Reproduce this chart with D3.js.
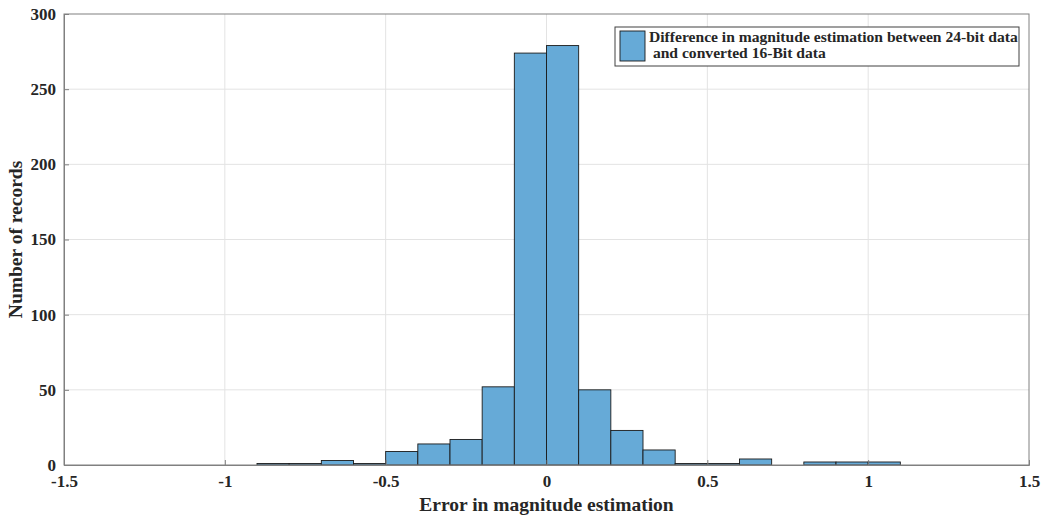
<!DOCTYPE html>
<html>
<head>
<meta charset="utf-8">
<script src="https://cdn.jsdelivr.net/npm/d3@7"></script>
<style>
  body { margin: 0; background: #fff; }
  text { font-family: "Liberation Serif", "Times New Roman", serif; font-weight: bold; fill: #262626; }
</style>
</head>
<body>
<div id="chart"></div>
<script>
// histogram bins (left edges) and counts
const binStarts = [-0.9, -0.8, -0.7, -0.6, -0.5, -0.4, -0.3, -0.2, -0.1, 0, 0.1, 0.2, 0.3, 0.4, 0.5, 0.6, 0.7, 0.8, 0.9, 1.0];
const counts    = [1, 1, 3, 1, 9, 14, 17, 52, 274, 279, 50, 23, 10, 1, 1, 4, 0, 2, 2, 2];
const binWidth = 0.1;
const xTicks = [-1.5, -1, -0.5, 0, 0.5, 1, 1.5];
const yTicks = [0, 50, 100, 150, 200, 250, 300];
const legendLines = ['Difference in magnitude estimation between 24-bit data', ' and converted 16-Bit data'];

const svgWidth = 1044, svgHeight = 517;
const margin = { top: 14, right: 15, bottom: 52, left: 64 };
const width = svgWidth - margin.left - margin.right;
const height = svgHeight - margin.top - margin.bottom;

const svg = d3.select('#chart').append('svg')
  .attr('width', svgWidth).attr('height', svgHeight)
  .append('g')
  .attr('transform', `translate(${margin.left},${margin.top})`);

const x = d3.scaleLinear().domain([-1.5, 1.5]).range([0, width]);
const y = d3.scaleLinear().domain([0, 300]).range([height, 0]);

// grid
svg.append('g').selectAll('line').data(xTicks.slice(1, -1)).enter().append('line')
  .attr('x1', d => x(d)).attr('x2', d => x(d)).attr('y1', 0).attr('y2', height)
  .attr('stroke', '#e3e3e3').attr('stroke-width', 1);
svg.append('g').selectAll('line').data(yTicks.slice(1, -1)).enter().append('line')
  .attr('y1', d => y(d)).attr('y2', d => y(d)).attr('x1', 0).attr('x2', width)
  .attr('stroke', '#e3e3e3').attr('stroke-width', 1);

// bars
const bins = binStarts.map((s, i) => ({ x0: s, x1: s + binWidth, n: counts[i] }));
svg.selectAll('.bar').data(bins).enter().append('rect')
  .attr('class', 'bar')
  .attr('x', d => x(d.x0))
  .attr('y', d => y(d.n))
  .attr('width', d => x(d.x1) - x(d.x0))
  .attr('height', d => height - y(d.n))
  .attr('fill', 'rgb(102,170,215)')
  .attr('stroke', '#1a1a1a').attr('stroke-width', 0.9);

// box
svg.append('rect').attr('x', 0).attr('y', 0).attr('width', width).attr('height', height)
  .attr('fill', 'none').attr('stroke', '#808080').attr('stroke-width', 1);

// axes
const xAxis = svg.append('g').attr('transform', `translate(0,${height})`)
  .call(d3.axisBottom(x).tickValues(xTicks).tickSize(-5).tickPadding(10).tickFormat(d => String(d)));
const yAxis = svg.append('g')
  .call(d3.axisLeft(y).tickValues(yTicks).tickSize(-5).tickPadding(8));
[xAxis, yAxis].forEach(a => {
  a.select('.domain').attr('stroke', '#808080');
  a.selectAll('.tick line').attr('stroke', '#808080');
  a.selectAll('.tick text').style('font-size', '17px').style('font-family', '"Liberation Serif", serif')
    .style('font-weight', 'bold').attr('fill', '#262626');
});

// axis labels
svg.append('text')
  .attr('x', width / 2).attr('y', height + 46)
  .attr('text-anchor', 'middle').style('font-size', '19.5px')
  .text('Error in magnitude estimation');
svg.append('text')
  .attr('transform', 'rotate(-90)')
  .attr('x', -height / 2).attr('y', -margin.left + 22)
  .attr('text-anchor', 'middle').style('font-size', '19.5px')
  .text('Number of records');

// legend
const lg = svg.append('g').attr('transform', `translate(${615 - margin.left},${27 - margin.top})`);
lg.append('rect').attr('x', 0).attr('y', 0).attr('width', 404).attr('height', 39)
  .attr('fill', '#fff').attr('stroke', '#404040').attr('stroke-width', 1);
lg.append('rect').attr('x', 5).attr('y', 4).attr('width', 25).attr('height', 30)
  .attr('fill', 'rgb(102,170,215)').attr('stroke', '#1a1a1a').attr('stroke-width', 0.9);
lg.selectAll('.lt').data(legendLines).enter().append('text')
  .attr('class', 'lt')
  .attr('x', 34).attr('y', (d, i) => 15 + i * 16)
  .attr('xml:space', 'preserve')
  .style('white-space', 'pre')
  .style('font-size', '15.6px')
  .text(d => d);
</script>
</body>
</html>
